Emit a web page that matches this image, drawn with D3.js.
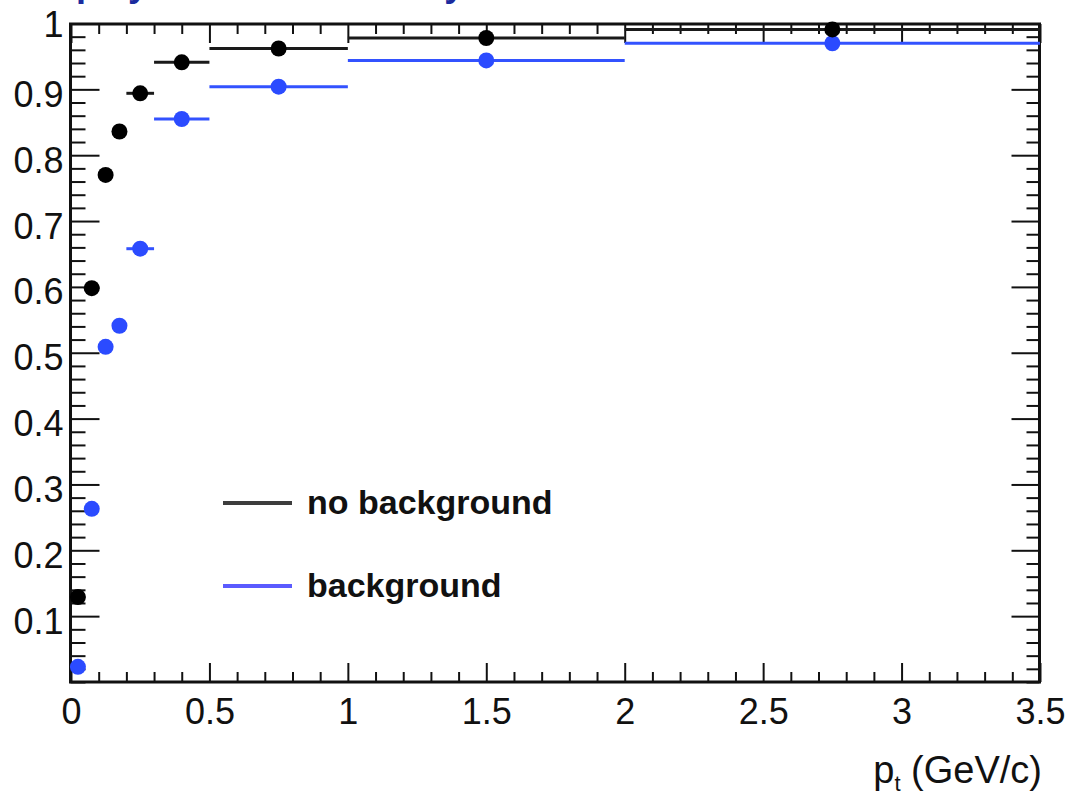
<!DOCTYPE html>
<html>
<head>
<meta charset="utf-8">
<script src="https://cdn.jsdelivr.net/npm/d3@7"></script>
<style>
  html, body { margin: 0; padding: 0; background: #fff; }
  svg { display: block; }
  text { font-family: "Liberation Sans", Arial, Helvetica, sans-serif; }
</style>
</head>
<body>
<svg id="chart" width="1071" height="797"></svg>
<script>
// pt bins (GeV/c)
const binLow  = [0.00, 0.05, 0.10, 0.15, 0.20, 0.30, 0.50, 1.00, 2.00];
const binHigh = [0.05, 0.10, 0.15, 0.20, 0.30, 0.50, 1.00, 2.00, 3.50];

// efficiency per bin
const effNoBackground = [0.129, 0.598, 0.770, 0.836, 0.894, 0.941, 0.962, 0.978, 0.991];
const effBackground   = [0.023, 0.263, 0.509, 0.541, 0.658, 0.855, 0.904, 0.944, 0.970];

// axis tick labels
const xTickValues = [0, 0.5, 1, 1.5, 2, 2.5, 3, 3.5];
const xTickLabels = ["0", "0.5", "1", "1.5", "2", "2.5", "3", "3.5"];
const yTickValues = [0.1, 0.2, 0.3, 0.4, 0.5, 0.6, 0.7, 0.8, 0.9, 1];
const yTickLabels = ["0.1", "0.2", "0.3", "0.4", "0.5", "0.6", "0.7", "0.8", "0.9", "1"];

const seriesNames = ["no background", "background"];

const svg = d3.select("#chart");

const frameL = 70.5, frameR = 1039.5, frameT = 24, frameB = 682;
const x = d3.scaleLinear().domain([0, 3.5]).range([71, 1040]);
const y = d3.scaleLinear().domain([0, 1]).range([682, 23.5]);

// title (runs off the top edge of the canvas)
svg.append("text")
  .attr("x", 20).attr("y", -4.5)
  .attr("font-size", 36).attr("font-weight", "bold")
  .attr("fill", "#1b2b9e")
  .text("Display of track efficiency");

// axes: major and minor ticks on all four sides
function styleAxis(g) {
  g.select(".domain").remove();
  g.selectAll(".tick line").attr("stroke", "#111").attr("stroke-width", 2);
}

// bottom
const xMinor = x.ticks(35).filter(v => !xTickValues.some(m => Math.abs(m - v) < 1e-9));
svg.append("g").attr("transform", `translate(0,${frameB})`)
  .call(d3.axisBottom(x).tickValues(xMinor).tickSize(-10).tickFormat(""))
  .call(styleAxis);
const xAxisG = svg.append("g").attr("transform", `translate(0,${frameB})`)
  .call(d3.axisBottom(x).tickValues(xTickValues).tickSize(-19)
    .tickFormat((d, i) => xTickLabels[i]))
  .call(styleAxis);
xAxisG.selectAll(".tick text")
  .attr("y", 42).attr("dy", null)
  .attr("font-size", 36).attr("fill", "#111")
  .attr("font-family", "'Liberation Sans', Arial, sans-serif");

// top
svg.append("g").attr("transform", `translate(0,${frameT})`)
  .call(d3.axisTop(x).tickValues(xMinor).tickSize(-10).tickFormat(""))
  .call(styleAxis);
svg.append("g").attr("transform", `translate(0,${frameT})`)
  .call(d3.axisTop(x).tickValues(xTickValues).tickSize(-19).tickFormat(""))
  .call(styleAxis);

// left
const yMinor = y.ticks(50).filter(v => !yTickValues.some(m => Math.abs(m - v) < 1e-9));
svg.append("g").attr("transform", `translate(${frameL},0)`)
  .call(d3.axisLeft(y).tickValues(yMinor).tickSize(-15).tickFormat(""))
  .call(styleAxis);
const yAxisG = svg.append("g").attr("transform", `translate(${frameL},0)`)
  .call(d3.axisLeft(y).tickValues(yTickValues).tickSize(-29)
    .tickFormat((d, i) => yTickLabels[i]))
  .call(styleAxis);
yAxisG.selectAll(".tick text")
  .attr("x", -7).attr("dy", null)
  .attr("y", d => d === 1 ? 13 : 17)
  .attr("font-size", 36).attr("fill", "#111")
  .attr("font-family", "'Liberation Sans', Arial, sans-serif");

// right
svg.append("g").attr("transform", `translate(${frameR},0)`)
  .call(d3.axisRight(y).tickValues(yMinor).tickSize(-13).tickFormat(""))
  .call(styleAxis);
svg.append("g").attr("transform", `translate(${frameR},0)`)
  .call(d3.axisRight(y).tickValues(yTickValues).tickSize(-28).tickFormat(""))
  .call(styleAxis);

// frame
svg.append("rect")
  .attr("x", frameL).attr("y", frameT)
  .attr("width", frameR - frameL).attr("height", frameB - frameT)
  .attr("fill", "none").attr("stroke", "#111").attr("stroke-width", 3);

// data: horizontal bin-width bars with a marker at the bin centre
const series = [
  { name: seriesNames[0], values: effNoBackground, bar: "#1a1a1a", marker: "#000000" },
  { name: seriesNames[1], values: effBackground,   bar: "#3352ff", marker: "#2b4bff" }
];

const plot = svg.append("g");
series.slice().reverse().forEach(s => {
  const rows = binLow.map((lo, i) => ({ lo, hi: binHigh[i], v: s.values[i] }));
  const g = plot.append("g");
  g.selectAll("line").data(rows).join("line")
    .attr("x1", d => x(d.lo)).attr("x2", d => x(d.hi))
    .attr("y1", d => y(d.v)).attr("y2", d => y(d.v))
    .attr("stroke", s.bar).attr("stroke-width", 3);
  g.selectAll("circle").data(rows).join("circle")
    .attr("cx", d => x((d.lo + d.hi) / 2)).attr("cy", d => y(d.v))
    .attr("r", 8).attr("fill", s.marker);
});

// x axis title
const xt = svg.append("text")
  .attr("x", 1042).attr("y", 783)
  .attr("text-anchor", "end")
  .attr("font-size", 38).attr("fill", "#111");
xt.append("tspan").text("p");
xt.append("tspan").attr("font-size", 22).attr("dy", 8).text("t");
xt.append("tspan").attr("dy", -8).text(" (GeV/c)");

// legend
const legendRows = [
  { label: seriesNames[0], color: "#3d3d3d", ly: 503 },
  { label: seriesNames[1], color: "#5b5bff", ly: 586 }
];
const lg = svg.append("g");
legendRows.forEach(r => {
  lg.append("line")
    .attr("x1", 223).attr("x2", 292)
    .attr("y1", r.ly).attr("y2", r.ly)
    .attr("stroke", r.color).attr("stroke-width", 4);
  lg.append("text")
    .attr("x", 307).attr("y", r.ly + 11)
    .attr("font-size", 34).attr("font-weight", "bold").attr("fill", "#111")
    .text(r.label);
});
</script>
</body>
</html>
